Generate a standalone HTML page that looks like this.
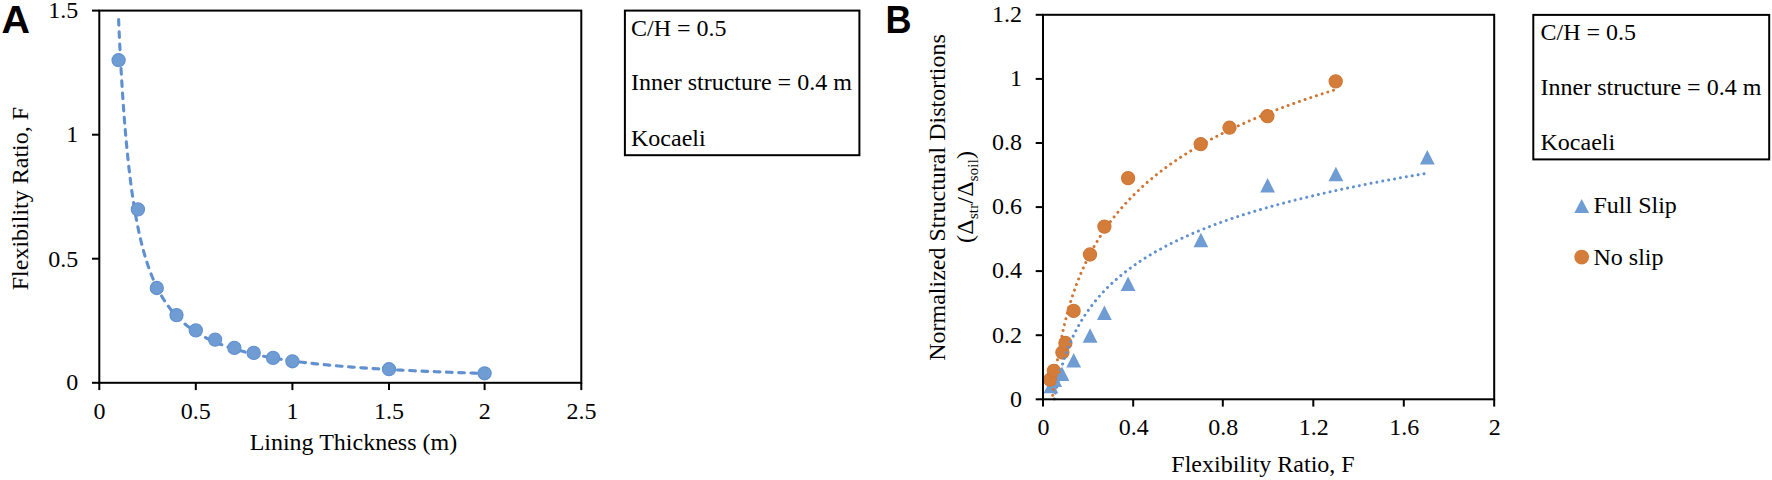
<!DOCTYPE html>
<html lang="en"><head><meta charset="utf-8"><title>Figure</title>
<style>html,body{margin:0;padding:0;background:#fff}body{width:1772px;height:480px;overflow:hidden}svg{display:block}text{font-family:"Liberation Serif", "Times New Roman", serif;font-size:24px;fill:#000}.lab{font-family:"Liberation Sans",Arial,Helvetica,sans-serif;font-weight:bold;font-size:39px}.ax{stroke:#000;stroke-width:2;fill:none}</style></head><body>
<svg width="1772" height="480" viewBox="0 0 1772 480">
<rect x="0" y="0" width="1772" height="480" fill="#fff"/>
<g id="panelA">
<text class="lab" transform="translate(1.6 32.5) scale(1.013 1)">A</text>
<line class="ax" x1="99.3" y1="382.8" x2="99.3" y2="390.1"/>
<text x="99.4" y="418.8" text-anchor="middle">0</text>
<line class="ax" x1="195.8" y1="382.8" x2="195.8" y2="390.1"/>
<text x="195.8" y="418.8" text-anchor="middle">0.5</text>
<line class="ax" x1="292.4" y1="382.8" x2="292.4" y2="390.1"/>
<text x="292.5" y="418.8" text-anchor="middle">1</text>
<line class="ax" x1="389.0" y1="382.8" x2="389.0" y2="390.1"/>
<text x="389.1" y="418.8" text-anchor="middle">1.5</text>
<line class="ax" x1="484.6" y1="382.8" x2="484.6" y2="390.1"/>
<text x="484.7" y="418.8" text-anchor="middle">2</text>
<line class="ax" x1="581.3" y1="382.8" x2="581.3" y2="390.1"/>
<text x="581.4" y="418.8" text-anchor="middle">2.5</text>
<line class="ax" x1="92.0" y1="382.8" x2="99.3" y2="382.8"/>
<text x="78.3" y="390.0" text-anchor="end">0</text>
<line class="ax" x1="92.0" y1="258.7" x2="99.3" y2="258.7"/>
<text x="78.3" y="266.9" text-anchor="end">0.5</text>
<line class="ax" x1="92.0" y1="134.7" x2="99.3" y2="134.7"/>
<text x="78.3" y="141.9" text-anchor="end">1</text>
<line class="ax" x1="92.0" y1="10.6" x2="99.3" y2="10.6"/>
<text x="78.3" y="17.8" text-anchor="end">1.5</text>
<text x="353.4" y="450.1" text-anchor="middle">Lining Thickness (m)</text>
<text transform="translate(27.8 198.6) rotate(-90)" text-anchor="middle">Flexibility Ratio, F</text>
<path d="M118.59 19.58 L118.86 25.60 L119.13 31.51 L119.40 37.33 L119.67 43.06 L119.96 48.68 L120.24 54.22 L120.53 59.66 L120.82 65.01 L121.12 70.28 L121.42 75.45 L121.72 80.54 L122.03 85.55 L122.34 90.47 L122.66 95.31 L122.98 100.08 L123.31 104.76 L123.64 109.36 L123.98 113.89 L124.32 118.35 L124.66 122.73 L125.01 127.04 L125.36 131.27 L125.72 135.44 L126.09 139.54 L126.46 143.56 L126.83 147.53 L127.21 151.42 L127.59 155.26 L127.98 159.03 L128.38 162.73 L128.78 166.38 L129.18 169.96 L129.60 173.49 L130.01 176.95 L130.44 180.36 L130.86 183.72 L131.30 187.01 L131.74 190.26 L132.19 193.45 L132.64 196.58 L133.10 199.67 L133.56 202.70 L134.04 205.68 L134.51 208.62 L135.00 211.50 L135.49 214.34 L135.99 217.13 L136.50 219.87 L137.01 222.57 L137.53 225.23 L138.05 227.84 L138.59 230.40 L139.13 232.93 L139.68 235.41 L140.23 237.85 L140.80 240.25 L141.37 242.61 L141.95 244.94 L142.54 247.22 L143.13 249.46 L143.73 251.67 L144.35 253.84 L144.97 255.98 L145.60 258.08 L146.23 260.15 L146.88 262.18 L147.54 264.18 L148.20 266.14 L148.87 268.07 L149.56 269.97 L150.25 271.84 L150.95 273.68 L151.66 275.49 L152.38 277.27 L153.11 279.01 L153.85 280.73 L154.61 282.42 L155.37 284.09 L156.14 285.72 L156.92 287.33 L157.72 288.91 L158.52 290.47 L159.34 291.99 L160.16 293.50 L161.00 294.98 L161.85 296.43 L162.71 297.86 L163.59 299.27 L164.47 300.65 L165.37 302.01 L166.28 303.35 L167.20 304.67 L168.14 305.96 L169.09 307.23 L170.05 308.49 L171.02 309.72 L172.01 310.93 L173.01 312.12 L174.03 313.29 L175.05 314.44 L176.10 315.57 L177.16 316.69 L178.23 317.78 L179.32 318.86 L180.42 319.92 L181.53 320.96 L182.67 321.98 L183.82 322.99 L184.98 323.98 L186.16 324.96 L187.36 325.91 L188.57 326.86 L189.80 327.78 L191.04 328.69 L192.31 329.59 L193.59 330.47 L194.89 331.34 L196.21 332.19 L197.54 333.03 L198.90 333.85 L200.27 334.66 L201.67 335.46 L203.08 336.25 L204.51 337.02 L205.96 337.77 L207.44 338.52 L208.93 339.25 L210.44 339.98 L211.97 340.68 L213.53 341.38 L215.10 342.07 L216.70 342.74 L218.32 343.41 L219.96 344.06 L221.63 344.70 L223.32 345.33 L225.03 345.95 L226.76 346.56 L228.52 347.16 L230.30 347.75 L232.11 348.33 L233.94 348.90 L235.80 349.47 L237.68 350.02 L239.59 350.56 L241.52 351.09 L243.49 351.62 L245.47 352.14 L247.49 352.64 L249.53 353.14 L251.61 353.64 L253.71 354.12 L255.84 354.59 L258.00 355.06 L260.18 355.52 L262.40 355.97 L264.65 356.42 L266.93 356.85 L269.24 357.28 L271.59 357.71 L273.96 358.12 L276.37 358.53 L278.81 358.93 L281.29 359.33 L283.80 359.72 L286.34 360.10 L288.92 360.47 L291.53 360.84 L294.18 361.21 L296.87 361.57 L299.59 361.92 L302.35 362.26 L305.15 362.60 L307.99 362.94 L310.86 363.27 L313.78 363.59 L316.73 363.91 L319.73 364.22 L322.77 364.53 L325.85 364.83 L328.97 365.13 L332.13 365.42 L335.34 365.71 L338.59 365.99 L341.89 366.27 L345.23 366.55 L348.62 366.81 L352.06 367.08 L355.54 367.34 L359.07 367.60 L362.65 367.85 L366.28 368.10 L369.96 368.34 L373.68 368.58 L377.46 368.81 L381.30 369.05 L385.18 369.27 L389.12 369.50 L393.07 369.72 L397.08 369.93 L401.14 370.15 L405.26 370.36 L409.43 370.56 L413.66 370.77 L417.95 370.97 L422.30 371.16 L426.71 371.35 L431.18 371.54 L435.71 371.73 L440.30 371.91 L444.96 372.09 L449.68 372.27 L454.47 372.45 L459.32 372.62 L464.24 372.79 L469.22 372.95 L474.28 373.11 L479.40 373.28 L484.60 373.43" fill="none" stroke="#6190D0" stroke-width="3.1" stroke-dasharray="5.7 6.55" stroke-linecap="round"/>
<circle cx="118.6" cy="60.2" r="6.6" fill="#709CD4" stroke="#6190D0" stroke-width="1.1"/>
<circle cx="137.9" cy="209.4" r="6.6" fill="#709CD4" stroke="#6190D0" stroke-width="1.1"/>
<circle cx="156.8" cy="288.0" r="6.6" fill="#709CD4" stroke="#6190D0" stroke-width="1.1"/>
<circle cx="176.5" cy="315.1" r="6.6" fill="#709CD4" stroke="#6190D0" stroke-width="1.1"/>
<circle cx="195.8" cy="330.4" r="6.6" fill="#709CD4" stroke="#6190D0" stroke-width="1.1"/>
<circle cx="215.1" cy="339.6" r="6.6" fill="#709CD4" stroke="#6190D0" stroke-width="1.1"/>
<circle cx="234.4" cy="347.9" r="6.6" fill="#709CD4" stroke="#6190D0" stroke-width="1.1"/>
<circle cx="253.7" cy="352.9" r="6.6" fill="#709CD4" stroke="#6190D0" stroke-width="1.1"/>
<circle cx="273.1" cy="357.9" r="6.6" fill="#709CD4" stroke="#6190D0" stroke-width="1.1"/>
<circle cx="292.4" cy="361.3" r="6.6" fill="#709CD4" stroke="#6190D0" stroke-width="1.1"/>
<circle cx="389.0" cy="369.2" r="6.6" fill="#709CD4" stroke="#6190D0" stroke-width="1.1"/>
<circle cx="484.6" cy="373.3" r="6.6" fill="#709CD4" stroke="#6190D0" stroke-width="1.1"/>
<rect class="ax" x="99.3" y="10.6" width="482.0" height="372.2"/>
</g>
<rect class="ax" x="624.9" y="10.6" width="234.5" height="144.6" fill="#fff"/>
<text x="631.0" y="36.4">C/H = 0.5</text>
<text x="631.0" y="90.2">Inner structure = 0.4 m</text>
<text x="631.0" y="145.8">Kocaeli</text>
<g id="panelB">
<text class="lab" transform="translate(885.5 32.7) scale(0.925 1)">B</text>
<line class="ax" x1="1043.0" y1="399.3" x2="1043.0" y2="406.6"/>
<text x="1043.5" y="434.8" text-anchor="middle">0</text>
<line class="ax" x1="1133.2" y1="399.3" x2="1133.2" y2="406.6"/>
<text x="1133.7" y="434.8" text-anchor="middle">0.4</text>
<line class="ax" x1="1222.8" y1="399.3" x2="1222.8" y2="406.6"/>
<text x="1223.3" y="434.8" text-anchor="middle">0.8</text>
<line class="ax" x1="1313.3" y1="399.3" x2="1313.3" y2="406.6"/>
<text x="1313.8" y="434.8" text-anchor="middle">1.2</text>
<line class="ax" x1="1403.8" y1="399.3" x2="1403.8" y2="406.6"/>
<text x="1404.3" y="434.8" text-anchor="middle">1.6</text>
<line class="ax" x1="1494.2" y1="399.3" x2="1494.2" y2="406.6"/>
<text x="1494.7" y="434.8" text-anchor="middle">2</text>
<line class="ax" x1="1035.7" y1="399.3" x2="1043.0" y2="399.3"/>
<text x="1022" y="406.6" text-anchor="end">0</text>
<line class="ax" x1="1035.7" y1="335.2" x2="1043.0" y2="335.2"/>
<text x="1022" y="342.5" text-anchor="end">0.2</text>
<line class="ax" x1="1035.7" y1="271.1" x2="1043.0" y2="271.1"/>
<text x="1022" y="278.4" text-anchor="end">0.4</text>
<line class="ax" x1="1035.7" y1="207.1" x2="1043.0" y2="207.1"/>
<text x="1022" y="214.4" text-anchor="end">0.6</text>
<line class="ax" x1="1035.7" y1="143.0" x2="1043.0" y2="143.0"/>
<text x="1022" y="150.3" text-anchor="end">0.8</text>
<line class="ax" x1="1035.7" y1="78.9" x2="1043.0" y2="78.9"/>
<text x="1022" y="86.2" text-anchor="end">1</text>
<line class="ax" x1="1035.7" y1="14.8" x2="1043.0" y2="14.8"/>
<text x="1022" y="22.1" text-anchor="end">1.2</text>
<text x="1263" y="471.9" text-anchor="middle">Flexibility Ratio, F</text>
<text transform="translate(945.3 197.5) rotate(-90)" text-anchor="middle">Normalized Structural Distortions</text>
<text transform="translate(973.1 196.9) rotate(-90)" text-anchor="middle" letter-spacing="0.25">(Δ<tspan font-size="14.6" dy="4.6">str</tspan><tspan dy="-4.6">/Δ</tspan><tspan font-size="14.6" dy="4.6">soil</tspan><tspan dy="-4.6">)</tspan></text>
<path d="M1050.9 378.7 L1058.3 393.2 L1043.5 393.2Z" fill="#709CD4"/>
<path d="M1054.7 372.5 L1062.1 387.0 L1047.3 387.0Z" fill="#709CD4"/>
<path d="M1062.0 366.5 L1069.4 381.0 L1054.6 381.0Z" fill="#709CD4"/>
<path d="M1073.7 353.0 L1081.1 367.5 L1066.3 367.5Z" fill="#709CD4"/>
<path d="M1090.1 328.3 L1097.5 342.8 L1082.7 342.8Z" fill="#709CD4"/>
<path d="M1104.4 305.5 L1111.8 320.0 L1097.0 320.0Z" fill="#709CD4"/>
<path d="M1128.1 276.4 L1135.5 290.9 L1120.7 290.9Z" fill="#709CD4"/>
<path d="M1200.9 232.7 L1208.3 247.2 L1193.5 247.2Z" fill="#709CD4"/>
<path d="M1267.6 178.0 L1275.0 192.5 L1260.2 192.5Z" fill="#709CD4"/>
<path d="M1335.9 166.8 L1343.3 181.3 L1328.5 181.3Z" fill="#709CD4"/>
<path d="M1427.3 150.1 L1434.7 164.6 L1419.9 164.6Z" fill="#709CD4"/>
<path d="M1333.50 90.30 L1329.36 91.59 L1325.27 92.87 L1321.24 94.16 L1317.27 95.45 L1313.35 96.73 L1309.49 98.02 L1305.68 99.31 L1301.93 100.59 L1298.23 101.88 L1294.59 103.17 L1290.99 104.45 L1287.45 105.74 L1283.96 107.03 L1280.51 108.32 L1277.12 109.60 L1273.78 110.89 L1270.48 112.18 L1267.23 113.46 L1264.02 114.75 L1260.86 116.04 L1257.75 117.32 L1254.68 118.61 L1251.65 119.90 L1248.67 121.19 L1245.73 122.47 L1242.83 123.76 L1239.97 125.05 L1237.15 126.33 L1234.37 127.62 L1231.64 128.91 L1228.94 130.19 L1226.28 131.48 L1223.65 132.77 L1221.09 134.06 L1218.56 135.34 L1216.07 136.63 L1213.62 137.92 L1211.21 139.20 L1208.82 140.49 L1206.47 141.78 L1204.16 143.06 L1201.88 144.35 L1199.62 145.64 L1197.41 146.93 L1195.22 148.21 L1193.06 149.50 L1190.94 150.79 L1188.84 152.07 L1186.78 153.36 L1184.74 154.65 L1182.74 155.93 L1180.76 157.22 L1178.81 158.51 L1176.89 159.79 L1174.99 161.08 L1173.12 162.37 L1171.28 163.66 L1169.47 164.94 L1167.68 166.23 L1165.91 167.52 L1164.17 168.80 L1162.46 170.09 L1160.77 171.38 L1159.10 172.66 L1157.46 173.95 L1155.84 175.24 L1154.25 176.53 L1152.67 177.81 L1151.12 179.10 L1149.60 180.39 L1148.09 181.67 L1146.60 182.96 L1145.14 184.25 L1143.69 185.53 L1142.27 186.82 L1140.87 188.11 L1139.49 189.40 L1138.12 190.68 L1136.78 191.97 L1135.45 193.26 L1134.15 194.54 L1132.86 195.83 L1131.58 197.12 L1130.32 198.40 L1129.08 199.69 L1127.86 200.98 L1126.65 202.26 L1125.46 203.55 L1124.29 204.84 L1123.13 206.13 L1121.99 207.41 L1120.87 208.70 L1119.76 209.99 L1118.67 211.27 L1117.60 212.56 L1116.54 213.85 L1115.49 215.13 L1114.46 216.42 L1113.44 217.71 L1112.44 219.00 L1111.45 220.28 L1110.48 221.57 L1109.52 222.86 L1108.58 224.14 L1107.64 225.43 L1106.72 226.72 L1105.82 228.00 L1104.93 229.29 L1104.05 230.58 L1103.18 231.87 L1102.32 233.15 L1101.48 234.44 L1100.65 235.73 L1099.83 237.01 L1099.02 238.30 L1098.22 239.59 L1097.44 240.87 L1096.66 242.16 L1095.90 243.45 L1095.15 244.74 L1094.41 246.02 L1093.68 247.31 L1092.96 248.60 L1092.25 249.88 L1091.55 251.17 L1090.86 252.46 L1090.18 253.74 L1089.50 255.03 L1088.84 256.32 L1088.19 257.60 L1087.55 258.89 L1086.92 260.18 L1086.29 261.47 L1085.68 262.75 L1085.07 264.04 L1084.47 265.33 L1083.88 266.61 L1083.30 267.90 L1082.73 269.19 L1082.16 270.47 L1081.61 271.76 L1081.06 273.05 L1080.52 274.34 L1079.98 275.62 L1079.46 276.91 L1078.94 278.20 L1078.43 279.48 L1077.92 280.77 L1077.43 282.06 L1076.94 283.34 L1076.46 284.63 L1075.98 285.92 L1075.51 287.21 L1075.05 288.49 L1074.59 289.78 L1074.14 291.07 L1073.70 292.35 L1073.26 293.64 L1072.83 294.93 L1072.41 296.21 L1071.99 297.50 L1071.58 298.79 L1071.17 300.07 L1070.77 301.36 L1070.38 302.65 L1069.99 303.94 L1069.60 305.22 L1069.23 306.51 L1068.85 307.80 L1068.49 309.08 L1068.12 310.37 L1067.77 311.66 L1067.41 312.94 L1067.07 314.23 L1066.73 315.52 L1066.39 316.81 L1066.06 318.09 L1065.73 319.38 L1065.40 320.67 L1065.09 321.95 L1064.77 323.24 L1064.46 324.53 L1064.16 325.81 L1063.86 327.10 L1063.56 328.39 L1063.27 329.68 L1062.98 330.96 L1062.70 332.25 L1062.42 333.54 L1062.14 334.82 L1061.87 336.11 L1061.60 337.40 L1061.33 338.68 L1061.07 339.97 L1060.82 341.26 L1060.56 342.55 L1060.31 343.83 L1060.07 345.12 L1059.83 346.41 L1059.59 347.69 L1059.35 348.98 L1059.12 350.27 L1058.89 351.55 L1058.66 352.84 L1058.44 354.13 L1058.22 355.41 L1058.00 356.70 L1057.79 357.99 L1057.58 359.28 L1057.37 360.56 L1057.17 361.85 L1056.97 363.14 L1056.77 364.42 L1056.57 365.71 L1056.38 367.00 L1056.19 368.28 L1056.00 369.57 L1055.82 370.86 L1055.64 372.15 L1055.46 373.43 L1055.28 374.72 L1055.10 376.01 L1054.93 377.29 L1054.76 378.58 L1054.60 379.87 L1054.43 381.15 L1054.27 382.44 L1054.11 383.73 L1053.95 385.02 L1053.79 386.30 L1053.64 387.59 L1053.49 388.88 L1053.34 390.16 L1053.19 391.45 L1053.05 392.74 L1052.91 394.02 L1052.76 395.31 L1052.63 396.60 L1052.49 397.88 L1052.35 399.17 L1052.22 400.46" fill="none" stroke="#CF7634" stroke-width="3" stroke-dasharray="0.01 5.97" stroke-linecap="round"/>
<circle cx="1050.1" cy="379.7" r="6.6" fill="#D47D3A" stroke="#CF7634" stroke-width="1.1"/>
<circle cx="1053.8" cy="370.8" r="6.6" fill="#D47D3A" stroke="#CF7634" stroke-width="1.1"/>
<circle cx="1062.4" cy="352.5" r="6.6" fill="#D47D3A" stroke="#CF7634" stroke-width="1.1"/>
<circle cx="1065.4" cy="343.0" r="6.6" fill="#D47D3A" stroke="#CF7634" stroke-width="1.1"/>
<circle cx="1073.6" cy="310.9" r="6.6" fill="#D47D3A" stroke="#CF7634" stroke-width="1.1"/>
<circle cx="1090.0" cy="254.5" r="6.6" fill="#D47D3A" stroke="#CF7634" stroke-width="1.1"/>
<circle cx="1104.4" cy="226.6" r="6.6" fill="#D47D3A" stroke="#CF7634" stroke-width="1.1"/>
<circle cx="1128.1" cy="178.1" r="6.6" fill="#D47D3A" stroke="#CF7634" stroke-width="1.1"/>
<circle cx="1200.7" cy="144.2" r="6.6" fill="#D47D3A" stroke="#CF7634" stroke-width="1.1"/>
<circle cx="1229.5" cy="127.7" r="6.6" fill="#D47D3A" stroke="#CF7634" stroke-width="1.1"/>
<circle cx="1267.4" cy="116.2" r="6.6" fill="#D47D3A" stroke="#CF7634" stroke-width="1.1"/>
<circle cx="1335.7" cy="81.4" r="6.6" fill="#D47D3A" stroke="#CF7634" stroke-width="1.1"/>
<path d="M1424.00 173.77 L1418.33 174.73 L1412.74 175.69 L1407.24 176.64 L1401.81 177.60 L1396.46 178.56 L1391.20 179.52 L1386.00 180.48 L1380.89 181.44 L1375.85 182.40 L1370.89 183.36 L1366.00 184.32 L1361.18 185.28 L1356.44 186.24 L1351.76 187.20 L1347.16 188.16 L1342.62 189.11 L1338.15 190.07 L1333.75 191.03 L1329.41 191.99 L1325.14 192.95 L1320.93 193.91 L1316.78 194.87 L1312.70 195.83 L1308.67 196.79 L1304.71 197.75 L1300.80 198.71 L1296.95 199.67 L1293.16 200.62 L1289.43 201.58 L1285.75 202.54 L1282.13 203.50 L1278.56 204.46 L1275.04 205.42 L1271.57 206.38 L1268.16 207.34 L1264.80 208.30 L1261.48 209.26 L1258.22 210.22 L1255.00 211.18 L1251.84 212.14 L1248.72 213.09 L1245.64 214.05 L1242.61 215.01 L1239.63 215.97 L1236.69 216.93 L1233.80 217.89 L1230.94 218.85 L1228.13 219.81 L1225.37 220.77 L1222.64 221.73 L1219.98 222.69 L1217.36 223.65 L1214.78 224.61 L1212.23 225.56 L1209.73 226.52 L1207.26 227.48 L1204.83 228.44 L1202.43 229.40 L1200.07 230.36 L1197.75 231.32 L1195.46 232.28 L1193.20 233.24 L1190.98 234.20 L1188.79 235.16 L1186.63 236.12 L1184.51 237.08 L1182.42 238.03 L1180.35 238.99 L1178.32 239.95 L1176.32 240.91 L1174.35 241.87 L1172.41 242.83 L1170.49 243.79 L1168.61 244.75 L1166.75 245.71 L1164.92 246.67 L1163.12 247.63 L1161.34 248.59 L1159.59 249.54 L1157.87 250.50 L1156.17 251.46 L1154.50 252.42 L1152.85 253.38 L1151.23 254.34 L1149.63 255.30 L1148.05 256.26 L1146.50 257.22 L1144.97 258.18 L1143.47 259.14 L1141.98 260.10 L1140.52 261.06 L1139.08 262.01 L1137.66 262.97 L1136.27 263.93 L1134.89 264.89 L1133.53 265.85 L1132.19 266.81 L1130.87 267.77 L1129.56 268.73 L1128.27 269.69 L1127.01 270.65 L1125.76 271.61 L1124.53 272.57 L1123.32 273.53 L1122.12 274.48 L1120.95 275.44 L1119.79 276.40 L1118.65 277.36 L1117.53 278.32 L1116.42 279.28 L1115.33 280.24 L1114.25 281.20 L1113.20 282.16 L1112.15 283.12 L1111.12 284.08 L1110.11 285.04 L1109.12 286.00 L1108.13 286.95 L1107.17 287.91 L1106.21 288.87 L1105.27 289.83 L1104.35 290.79 L1103.44 291.75 L1102.54 292.71 L1101.65 293.67 L1100.78 294.63 L1099.92 295.59 L1099.08 296.55 L1098.25 297.51 L1097.42 298.46 L1096.62 299.42 L1095.82 300.38 L1095.03 301.34 L1094.26 302.30 L1093.50 303.26 L1092.75 304.22 L1092.01 305.18 L1091.28 306.14 L1090.57 307.10 L1089.86 308.06 L1089.16 309.02 L1088.48 309.98 L1087.80 310.93 L1087.14 311.89 L1086.48 312.85 L1085.83 313.81 L1085.20 314.77 L1084.57 315.73 L1083.95 316.69 L1083.34 317.65 L1082.75 318.61 L1082.15 319.57 L1081.57 320.53 L1081.00 321.49 L1080.44 322.45 L1079.88 323.40 L1079.33 324.36 L1078.79 325.32 L1078.26 326.28 L1077.74 327.24 L1077.22 328.20 L1076.71 329.16 L1076.21 330.12 L1075.72 331.08 L1075.23 332.04 L1074.75 333.00 L1074.28 333.96 L1073.82 334.92 L1073.36 335.87 L1072.91 336.83 L1072.46 337.79 L1072.02 338.75 L1071.59 339.71 L1071.17 340.67 L1070.75 341.63 L1070.34 342.59 L1069.93 343.55 L1069.53 344.51 L1069.14 345.47 L1068.75 346.43 L1068.37 347.38 L1067.99 348.34 L1067.62 349.30 L1067.25 350.26 L1066.89 351.22 L1066.54 352.18 L1066.19 353.14 L1065.84 354.10 L1065.50 355.06 L1065.17 356.02 L1064.84 356.98 L1064.52 357.94 L1064.20 358.90 L1063.88 359.85 L1063.57 360.81 L1063.27 361.77 L1062.96 362.73 L1062.67 363.69 L1062.38 364.65 L1062.09 365.61 L1061.80 366.57 L1061.52 367.53 L1061.25 368.49 L1060.98 369.45 L1060.71 370.41 L1060.45 371.37 L1060.19 372.32 L1059.93 373.28 L1059.68 374.24 L1059.43 375.20 L1059.19 376.16 L1058.95 377.12 L1058.71 378.08 L1058.48 379.04 L1058.25 380.00 L1058.02 380.96 L1057.80 381.92 L1057.58 382.88 L1057.36 383.84 L1057.15 384.79 L1056.94 385.75 L1056.73 386.71 L1056.53 387.67 L1056.33 388.63 L1056.13 389.59 L1055.93 390.55 L1055.74 391.51 L1055.55 392.47 L1055.37 393.43 L1055.18 394.39 L1055.00 395.35 L1054.82 396.31 L1054.65 397.26 L1054.47 398.22 L1054.30 399.18 L1054.14 400.14" fill="none" stroke="#6190D0" stroke-width="3" stroke-dasharray="0.01 5.97" stroke-linecap="round"/>
<clipPath id="tc"><path d="M1050.9 378.7 L1058.3 393.2 L1043.5 393.2Z" fill="#709CD4"/><path d="M1054.7 372.5 L1062.1 387.0 L1047.3 387.0Z" fill="#709CD4"/><path d="M1062.0 366.5 L1069.4 381.0 L1054.6 381.0Z" fill="#709CD4"/><path d="M1073.7 353.0 L1081.1 367.5 L1066.3 367.5Z" fill="#709CD4"/><path d="M1090.1 328.3 L1097.5 342.8 L1082.7 342.8Z" fill="#709CD4"/><path d="M1104.4 305.5 L1111.8 320.0 L1097.0 320.0Z" fill="#709CD4"/><path d="M1128.1 276.4 L1135.5 290.9 L1120.7 290.9Z" fill="#709CD4"/><path d="M1200.9 232.7 L1208.3 247.2 L1193.5 247.2Z" fill="#709CD4"/><path d="M1267.6 178.0 L1275.0 192.5 L1260.2 192.5Z" fill="#709CD4"/><path d="M1335.9 166.8 L1343.3 181.3 L1328.5 181.3Z" fill="#709CD4"/><path d="M1427.3 150.1 L1434.7 164.6 L1419.9 164.6Z" fill="#709CD4"/></clipPath>
<path d="M1424.00 173.77 L1418.33 174.73 L1412.74 175.69 L1407.24 176.64 L1401.81 177.60 L1396.46 178.56 L1391.20 179.52 L1386.00 180.48 L1380.89 181.44 L1375.85 182.40 L1370.89 183.36 L1366.00 184.32 L1361.18 185.28 L1356.44 186.24 L1351.76 187.20 L1347.16 188.16 L1342.62 189.11 L1338.15 190.07 L1333.75 191.03 L1329.41 191.99 L1325.14 192.95 L1320.93 193.91 L1316.78 194.87 L1312.70 195.83 L1308.67 196.79 L1304.71 197.75 L1300.80 198.71 L1296.95 199.67 L1293.16 200.62 L1289.43 201.58 L1285.75 202.54 L1282.13 203.50 L1278.56 204.46 L1275.04 205.42 L1271.57 206.38 L1268.16 207.34 L1264.80 208.30 L1261.48 209.26 L1258.22 210.22 L1255.00 211.18 L1251.84 212.14 L1248.72 213.09 L1245.64 214.05 L1242.61 215.01 L1239.63 215.97 L1236.69 216.93 L1233.80 217.89 L1230.94 218.85 L1228.13 219.81 L1225.37 220.77 L1222.64 221.73 L1219.98 222.69 L1217.36 223.65 L1214.78 224.61 L1212.23 225.56 L1209.73 226.52 L1207.26 227.48 L1204.83 228.44 L1202.43 229.40 L1200.07 230.36 L1197.75 231.32 L1195.46 232.28 L1193.20 233.24 L1190.98 234.20 L1188.79 235.16 L1186.63 236.12 L1184.51 237.08 L1182.42 238.03 L1180.35 238.99 L1178.32 239.95 L1176.32 240.91 L1174.35 241.87 L1172.41 242.83 L1170.49 243.79 L1168.61 244.75 L1166.75 245.71 L1164.92 246.67 L1163.12 247.63 L1161.34 248.59 L1159.59 249.54 L1157.87 250.50 L1156.17 251.46 L1154.50 252.42 L1152.85 253.38 L1151.23 254.34 L1149.63 255.30 L1148.05 256.26 L1146.50 257.22 L1144.97 258.18 L1143.47 259.14 L1141.98 260.10 L1140.52 261.06 L1139.08 262.01 L1137.66 262.97 L1136.27 263.93 L1134.89 264.89 L1133.53 265.85 L1132.19 266.81 L1130.87 267.77 L1129.56 268.73 L1128.27 269.69 L1127.01 270.65 L1125.76 271.61 L1124.53 272.57 L1123.32 273.53 L1122.12 274.48 L1120.95 275.44 L1119.79 276.40 L1118.65 277.36 L1117.53 278.32 L1116.42 279.28 L1115.33 280.24 L1114.25 281.20 L1113.20 282.16 L1112.15 283.12 L1111.12 284.08 L1110.11 285.04 L1109.12 286.00 L1108.13 286.95 L1107.17 287.91 L1106.21 288.87 L1105.27 289.83 L1104.35 290.79 L1103.44 291.75 L1102.54 292.71 L1101.65 293.67 L1100.78 294.63 L1099.92 295.59 L1099.08 296.55 L1098.25 297.51 L1097.42 298.46 L1096.62 299.42 L1095.82 300.38 L1095.03 301.34 L1094.26 302.30 L1093.50 303.26 L1092.75 304.22 L1092.01 305.18 L1091.28 306.14 L1090.57 307.10 L1089.86 308.06 L1089.16 309.02 L1088.48 309.98 L1087.80 310.93 L1087.14 311.89 L1086.48 312.85 L1085.83 313.81 L1085.20 314.77 L1084.57 315.73 L1083.95 316.69 L1083.34 317.65 L1082.75 318.61 L1082.15 319.57 L1081.57 320.53 L1081.00 321.49 L1080.44 322.45 L1079.88 323.40 L1079.33 324.36 L1078.79 325.32 L1078.26 326.28 L1077.74 327.24 L1077.22 328.20 L1076.71 329.16 L1076.21 330.12 L1075.72 331.08 L1075.23 332.04 L1074.75 333.00 L1074.28 333.96 L1073.82 334.92 L1073.36 335.87 L1072.91 336.83 L1072.46 337.79 L1072.02 338.75 L1071.59 339.71 L1071.17 340.67 L1070.75 341.63 L1070.34 342.59 L1069.93 343.55 L1069.53 344.51 L1069.14 345.47 L1068.75 346.43 L1068.37 347.38 L1067.99 348.34 L1067.62 349.30 L1067.25 350.26 L1066.89 351.22 L1066.54 352.18 L1066.19 353.14 L1065.84 354.10 L1065.50 355.06 L1065.17 356.02 L1064.84 356.98 L1064.52 357.94 L1064.20 358.90 L1063.88 359.85 L1063.57 360.81 L1063.27 361.77 L1062.96 362.73 L1062.67 363.69 L1062.38 364.65 L1062.09 365.61 L1061.80 366.57 L1061.52 367.53 L1061.25 368.49 L1060.98 369.45 L1060.71 370.41 L1060.45 371.37 L1060.19 372.32 L1059.93 373.28 L1059.68 374.24 L1059.43 375.20 L1059.19 376.16 L1058.95 377.12 L1058.71 378.08 L1058.48 379.04 L1058.25 380.00 L1058.02 380.96 L1057.80 381.92 L1057.58 382.88 L1057.36 383.84 L1057.15 384.79 L1056.94 385.75 L1056.73 386.71 L1056.53 387.67 L1056.33 388.63 L1056.13 389.59 L1055.93 390.55 L1055.74 391.51 L1055.55 392.47 L1055.37 393.43 L1055.18 394.39 L1055.00 395.35 L1054.82 396.31 L1054.65 397.26 L1054.47 398.22 L1054.30 399.18 L1054.14 400.14" fill="none" stroke="#709CD4" stroke-width="3.8" stroke-dasharray="0.01 5.97" stroke-linecap="round" clip-path="url(#tc)"/>
<rect class="ax" x="1043.0" y="14.8" width="451.2" height="384.5"/>
</g>
<rect class="ax" x="1533.3" y="14.9" width="235.9" height="144.5" fill="#fff"/>
<text x="1540.5" y="40.4">C/H = 0.5</text>
<text x="1540.5" y="94.9">Inner structure = 0.4 m</text>
<text x="1540.5" y="150.2">Kocaeli</text>
<path d="M1581.7 199.1 L1589.1 212.9 L1574.3 212.9Z" fill="#709CD4"/>
<text x="1593.5" y="212.9">Full Slip</text>
<circle cx="1581.7" cy="257.1" r="7.4" fill="#D47D3A"/>
<text x="1593.5" y="265">No slip</text>
</svg></body></html>
